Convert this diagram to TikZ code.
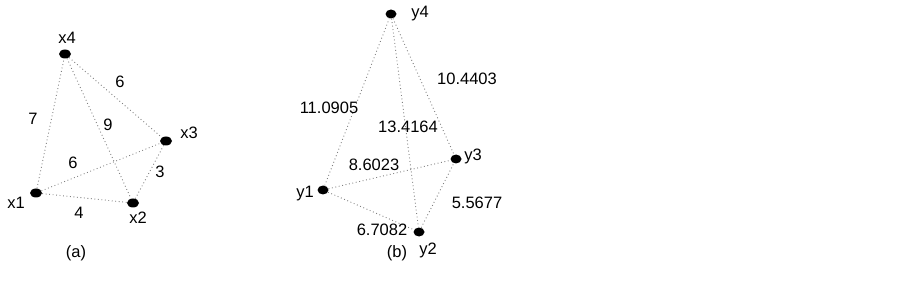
\documentclass[tikz,border=0pt]{standalone}
\usepackage{fontspec}
\setmainfont{Liberation Sans}
\usepackage{tikz}
\usetikzlibrary{shapes.geometric}

\tikzset{
    pt/.style={ellipse, fill=black, inner sep=0pt, minimum width=11pt, minimum height=9pt},
    edge/.style={gray, line width=0.9pt, dash pattern=on 0.9pt off 2.6pt},
    lbl/.style={font=\fontsize{16.5}{16.5}\selectfont, inner sep=0pt}
}

\begin{document}
\begin{tikzpicture}[x=1pt, y=-1pt]
    \useasboundingbox (0, 0) rectangle (903, 294);

    % (a): given distances
    \begin{scope}
        \node[pt, minimum width=12pt] (x1) at (36, 193) {};
        \node[pt, minimum width=12pt] (x2) at (133, 203) {};
        \node[pt, minimum width=12pt] (x3) at (166, 141) {};
        \node[pt, minimum width=12pt] (x4) at (65, 54) {};
        \draw[edge] (x1) -- (x4);
        \draw[edge] (x4) -- (x3);
        \draw[edge] (x4) -- (x2);
        \draw[edge] (x1) -- (x3);
        \draw[edge] (x1) -- (x2);
        \draw[edge] (x2) -- (x3);
        \node[lbl] (lx1) at (16, 203) {x1};
        \node[lbl] (lx2) at (138, 218) {x2};
        \node[lbl] (lx3) at (189, 133) {x3};
        \node[lbl] (lx4) at (67, 38) {x4};
        \node[lbl] (d14) at (33, 119) {7};
        \node[lbl] (d34) at (120, 82) {6};
        \node[lbl] (d24) at (108, 125) {9};
        \node[lbl] (d13) at (73, 163) {6};
        \node[lbl] (d23) at (160, 172) {3};
        \node[lbl] (d12) at (79, 213) {4};
        \node[lbl] (capa) at (76, 253) {(a)};
    \end{scope}

    % (b): embedded points
    \begin{scope}
        \node[pt] (y1) at (323, 190) {};
        \node[pt] (y2) at (419, 232) {};
        \node[pt] (y3) at (456, 159) {};
        \node[pt] (y4) at (391, 14) {};
        \draw[edge] (y1) -- (y4);
        \draw[edge] (y4) -- (y3);
        \draw[edge] (y4) -- (y2);
        \draw[edge] (y1) -- (y3);
        \draw[edge] (y1) -- (y2);
        \draw[edge] (y2) -- (y3);
        \node[lbl] (ly1) at (305, 194) {y1};
        \node[lbl] (ly2) at (428, 250) {y2};
        \node[lbl] (ly3) at (473, 156) {y3};
        \node[lbl] (ly4) at (420, 14) {y4};
        \node[lbl] (e14) at (329, 108) {11.0905};
        \node[lbl] (e34) at (467, 79) {10.4403};
        \node[lbl] (e24) at (408, 127) {13.4164};
        \node[lbl] (e13) at (374, 165) {8.6023};
        \node[lbl] (e23) at (477, 203) {5.5677};
        \node[lbl] (e12) at (382, 230) {6.7082};
        \node[lbl] (capb) at (397, 253) {(b)};
    \end{scope}
\end{tikzpicture}
\end{document}
